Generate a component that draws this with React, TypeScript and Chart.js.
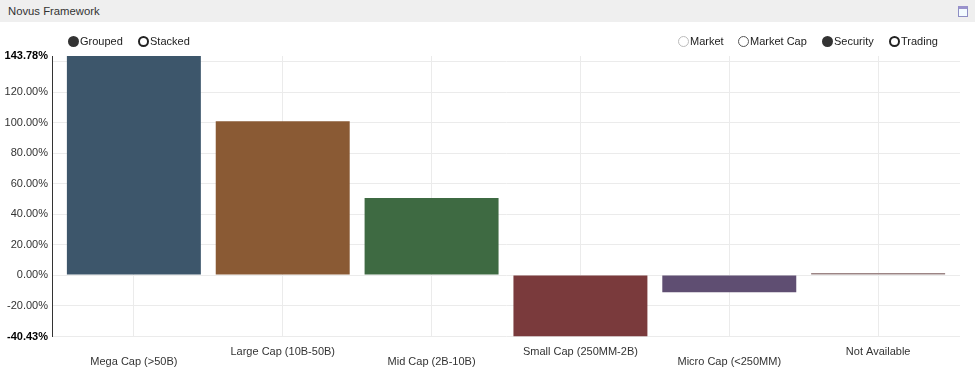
import React, { useEffect, useRef } from 'react';
import { Chart, registerables } from 'chart.js';

Chart.register(...registerables);

// ---- data ----
const categories = [
  'Mega Cap (>50B)',
  'Large Cap (10B-50B)',
  'Mid Cap (2B-10B)',
  'Small Cap (250MM-2B)',
  'Micro Cap (<250MM)',
  'Not Available',
];
const securityValues = [143.78, 100.9, 50.5, -40.43, -11.35, 1.3];
const barColors = ['#3d566b', '#8a5a34', '#3e6a42', '#7a3a3c', '#5f4e72', '#9c8585'];
const yMin = -40.43;
const yMax = 143.78;
const yTickValues = [-40.43, -20, 0, 20, 40, 60, 80, 100, 120, 140, 143.78];
const unlabeledTicks = [140];
const modeOptions = ['Grouped', 'Stacked'];
const modeStates = ['filled', 'hollow'];
const groupOptions = ['Market', 'Market Cap', 'Security', 'Trading'];
const groupStates = ['light', 'gray', 'filled', 'hollow'];

const FONT = 'Arial, "Liberation Sans", Helvetica, sans-serif';

function Radio({ left, label, state }: { left: number; label: string; state: string }) {
  let circle: React.CSSProperties = {
    position: 'absolute',
    left: 0,
    top: 0,
    width: 11,
    height: 11,
    borderRadius: '50%',
    boxSizing: 'border-box',
  };
  if (state === 'filled') circle = { ...circle, background: '#333' };
  else if (state === 'hollow') circle = { ...circle, border: '2px solid #222', background: '#fff' };
  else if (state === 'gray') circle = { ...circle, border: '1.5px solid #555', background: '#fff' };
  else circle = { ...circle, border: '1px solid #bbb', background: '#fff' };
  return (
    <div style={{ position: 'absolute', left, top: 36, height: 11, whiteSpace: 'nowrap' }}>
      <div style={circle} />
      <span
        style={{
          position: 'absolute',
          left: 12,
          top: -1,
          fontFamily: FONT,
          fontSize: 11,
          lineHeight: '13px',
          color: '#222',
        }}
      >
        {label}
      </span>
    </div>
  );
}

export default function App() {
  const canvasRef = useRef<HTMLCanvasElement | null>(null);

  useEffect(() => {
    const canvas = canvasRef.current;
    if (!canvas) return;
    const chart = new Chart(canvas, {
      type: 'bar',
      data: {
        datasets: [
          {
            label: 'Security',
            data: securityValues.map((v, i) => ({ x: i, y: v })),
            backgroundColor: barColors,
            borderWidth: 0,
            categoryPercentage: 1,
            barPercentage: 0.9,
          },
        ],
      },
      options: {
        responsive: false,
        animation: false,
        devicePixelRatio: 1,
        layout: { padding: { top: 34, right: 15, left: 0, bottom: 0 } },
        plugins: {
          legend: { display: false },
          tooltip: { enabled: false },
          title: { display: false },
        },
        scales: {
          x: {
            type: 'linear',
            min: -0.55,
            max: 5.55,
            offset: false,
            afterBuildTicks: (scale: any) => {
              scale.ticks = categories.map((_, i) => ({ value: i }));
            },
            afterFit: (scale: any) => {
              scale.height = 37.4;
            },
            grid: {
              color: '#ebebeb',
              lineWidth: 1,
              drawTicks: false,
              offset: false,
            },
            border: { display: false },
            ticks: {
              autoSkip: false,
              maxRotation: 0,
              minRotation: 0,
              padding: 10,
              color: '#333',
              font: { family: FONT, size: 11, lineHeight: '10px' },
              callback: (v: any) => {
                const i = Math.round(Number(v));
                const name = categories[i] ?? '';
                return i % 2 === 0 ? ['', name] : [name];
              },
            },
          },
          y: {
            type: 'linear',
            min: yMin,
            max: yMax,
            afterBuildTicks: (scale: any) => {
              scale.ticks = yTickValues.map((v) => ({ value: v }));
            },
            afterFit: (scale: any) => {
              scale.width = 52;
            },
            grid: {
              color: (ctx: any) =>
                ctx.tick && ctx.tick.value === yMax ? 'rgba(0,0,0,0)' : '#ebebeb',
              lineWidth: 1,
              drawTicks: false,
            },
            border: { display: true, color: '#333', width: 1 },
            ticks: {
              autoSkip: false,
              padding: 4,
              color: (ctx: any) =>
                ctx.tick && (ctx.tick.value === yMax || ctx.tick.value === yMin) ? '#000' : '#333',
              font: (ctx: any) => ({
                family: FONT,
                size: 11,
                weight:
                  ctx.tick && (ctx.tick.value === yMax || ctx.tick.value === yMin) ? 'bold' : 'normal',
              }),
              callback: (v: any) => {
                const n = Number(v);
                if (unlabeledTicks.includes(n)) return '';
                return n.toFixed(2) + '%';
              },
            },
          },
        },
      },
    });
    return () => chart.destroy();
  }, []);

  return (
    <div
      style={{
        position: 'absolute',
        left: 0,
        top: 0,
        width: 975,
        height: 374,
        background: '#fff',
        overflow: 'hidden',
      }}
    >
      <div
        style={{
          position: 'absolute',
          left: 0,
          top: 0,
          width: 975,
          height: 22,
          background: '#efefef',
        }}
      >
        <span
          style={{
            position: 'absolute',
            left: 8,
            top: 4,
            fontFamily: FONT,
            fontSize: 11.3,
            lineHeight: '14px',
            color: '#333',
          }}
        >
          Novus Framework
        </span>
        <div
          style={{
            position: 'absolute',
            left: 958,
            top: 6,
            width: 10,
            height: 11,
            boxSizing: 'border-box',
            border: '1px solid #8e8ec4',
            borderTop: '3px solid #9a92cc',
            background: '#f3fbff',
          }}
        />
      </div>
      <canvas
        ref={canvasRef}
        width={975}
        height={352}
        style={{ position: 'absolute', left: 0, top: 22, width: 975, height: 352 }}
      />
      {modeOptions.map((m, i) => (
        <Radio key={m} left={[68, 138][i]} label={m} state={modeStates[i]} />
      ))}
      {groupOptions.map((g, i) => (
        <Radio key={g} left={[678, 738, 822, 889][i]} label={g} state={groupStates[i]} />
      ))}
    </div>
  );
}
